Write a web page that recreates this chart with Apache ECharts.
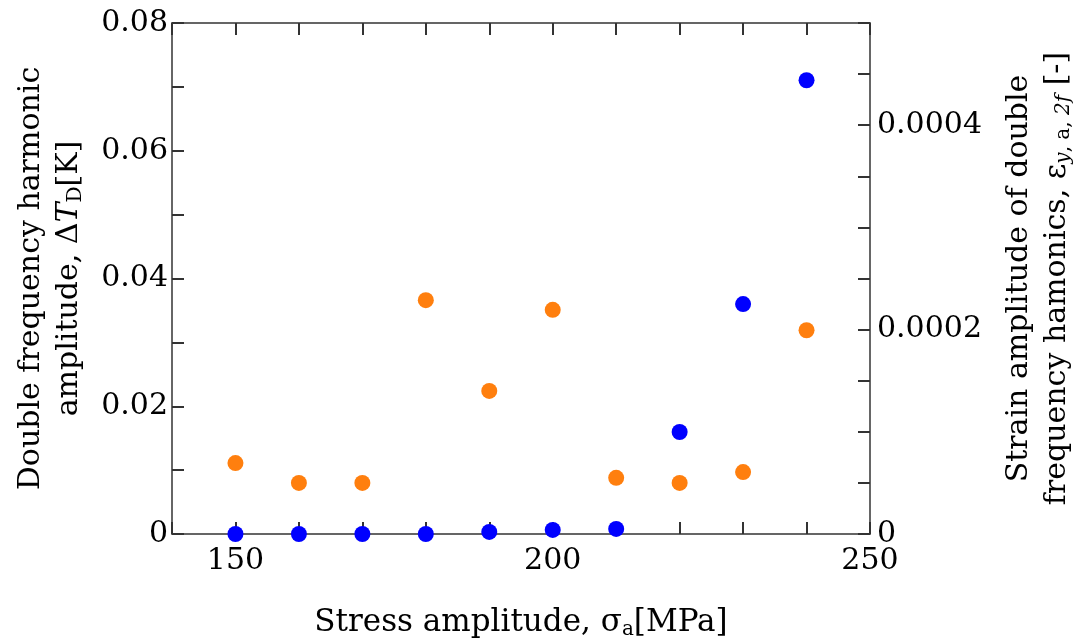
<!DOCTYPE html>
<html>
<head>
<meta charset="utf-8">
<script src="https://cdn.jsdelivr.net/npm/echarts@6/dist/echarts.min.js"></script>
<style>
  html, body { margin: 0; padding: 0; background: #fff; }
  #chart { width: 1083px; height: 641px; }
</style>
</head>
<body>
<div id="chart"></div>
<script>
// stress amplitude [MPa]
const stress = [150, 160, 170, 180, 190, 200, 210, 220, 230, 240];
// double frequency harmonic amplitude dT_D [K] (left axis, orange)
const deltaT = [0.0111, 0.0080, 0.0080, 0.0366, 0.0224, 0.0351, 0.0088, 0.0080, 0.0097, 0.0319];
// strain amplitude of double frequency harmonics [-] (right axis, blue)
const strain = [0, 0, 0, 0, 0.000002, 0.000004, 0.000005, 0.0000998, 0.000225, 0.000444];

const FONT = 'DejaVu Serif';
const axisLine = () => ({show: true, onZero: false, lineStyle: {color: '#333', width: 1.5}});
const ticks = () => ({show: true, inside: true, length: 12, lineStyle: {color: '#333', width: 2}});
const labelStyle = {fontFamily: FONT, fontSize: 30, color: '#000'};

const chart = echarts.init(document.getElementById('chart'));

chart.setOption({
  animation: false,
  backgroundColor: '#fff',
  grid: {left: 172, right: 213, top: 23, bottom: 107, outerBoundsMode: 'none'},
  xAxis: [{
    type: 'value', min: 140, max: 250, interval: 10,
    position: 'bottom',
    axisLine: axisLine(), axisTick: ticks(), splitLine: {show: false},
    axisLabel: Object.assign({}, labelStyle, {
      margin: 12,
      formatter: v => (v % 50 === 0 ? String(v) : '')
    }),
    name: 'Stress amplitude, σ{sub|a}[MPa]',
    nameLocation: 'middle', nameGap: 72,
    nameTextStyle: {
      fontFamily: FONT, fontSize: 31, color: '#000',
      rich: {sub: {fontFamily: FONT, fontSize: 20, color: '#000', padding: [14, 0, 0, 0]}}
    }
  }, {
    type: 'value', min: 140, max: 250, interval: 10,
    position: 'top',
    axisLine: axisLine(), axisTick: ticks(), splitLine: {show: false},
    axisLabel: {show: false}
  }],
  yAxis: [{
    type: 'value', min: 0, max: 0.08, interval: 0.01,
    position: 'left',
    axisLine: axisLine(), axisTick: ticks(), splitLine: {show: false},
    axisLabel: Object.assign({}, labelStyle, {
      margin: 4,
      formatter: v => {
        const k = Math.round(v * 100);
        if (k % 2 !== 0) return '';
        return k === 0 ? '0' : (k / 100).toFixed(2);
      }
    }),
    name: 'Double frequency harmonic\namplitude, Δ{it|T}{sub|D}[K]',
    nameLocation: 'middle', nameRotate: 90, nameGap: 84,
    nameTextStyle: {
      fontFamily: FONT, fontSize: 30, color: '#000', lineHeight: 38,
      rich: {
        it: {fontFamily: FONT, fontSize: 30, fontStyle: 'italic', color: '#000'},
        sub: {fontFamily: FONT, fontSize: 20, color: '#000', padding: [14, 0, 0, 0]}
      }
    }
  }, {
    type: 'value', min: 0, max: 0.0005, interval: 0.00005,
    position: 'right',
    axisLine: axisLine(), axisTick: ticks(), splitLine: {show: false},
    axisLabel: Object.assign({}, labelStyle, {
      margin: 7,
      formatter: v => {
        const k = Math.round(v / 0.00005);
        if (k % 4 !== 0) return '';
        return k === 0 ? '0' : (k * 0.00005).toFixed(4);
      }
    }),
    name: 'Strain amplitude of double\nfrequency hamonics, ε{subi|y}{sub|, a, }{subi|2f} [-]',
    nameLocation: 'middle', nameRotate: 90, nameGap: 130,
    nameTextStyle: {
      fontFamily: FONT, fontSize: 30, color: '#000', lineHeight: 38,
      rich: {
        sub: {fontFamily: FONT, fontSize: 20, color: '#000', padding: [14, 0, 0, 0]},
        subi: {fontFamily: FONT, fontSize: 20, fontStyle: 'italic', color: '#000', padding: [14, 0, 0, 0]}
      }
    }
  }],
  series: [{
    name: 'dT',
    type: 'scatter',
    xAxisIndex: 0, yAxisIndex: 0,
    symbol: 'circle', symbolSize: 16,
    itemStyle: {color: '#ff7f0e', opacity: 1},
    data: stress.map((s, i) => [s, deltaT[i]])
  }, {
    name: 'strain',
    type: 'scatter',
    xAxisIndex: 0, yAxisIndex: 1,
    symbol: 'circle', symbolSize: 16,
    itemStyle: {color: '#0000ff', opacity: 1},
    data: stress.map((s, i) => [s, strain[i]])
  }]
});
</script>
</body>
</html>
